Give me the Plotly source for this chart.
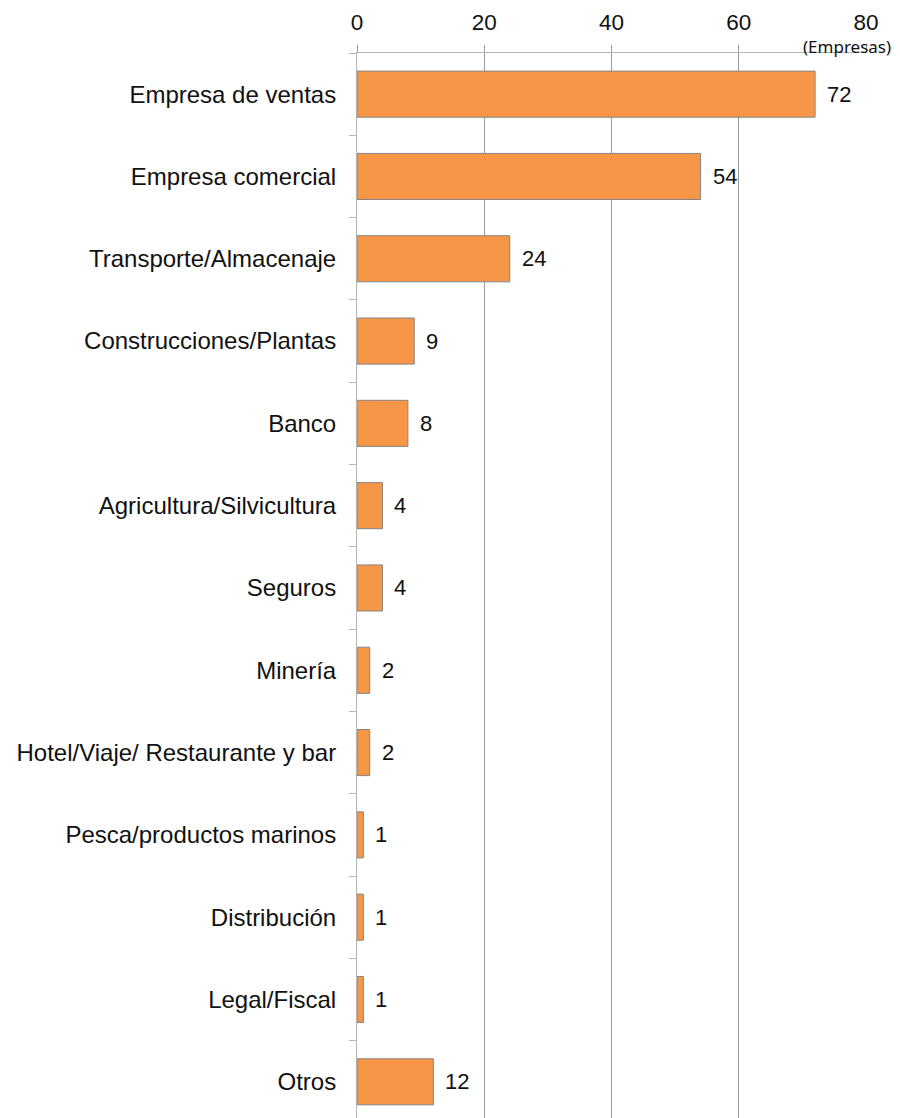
import plotly.graph_objects as go

# Número de empresas por sector
sectores = [
    "Empresa de ventas",
    "Empresa comercial",
    "Transporte/Almacenaje",
    "Construcciones/Plantas",
    "Banco",
    "Agricultura/Silvicultura",
    "Seguros",
    "Minería",
    "Hotel/Viaje/ Restaurante y bar",
    "Pesca/productos marinos",
    "Distribución",
    "Legal/Fiscal",
    "Otros",
]
empresas = [72, 54, 24, 9, 8, 4, 4, 2, 2, 1, 1, 1, 12]
x_ticks = [0, 20, 40, 60, 80]
unidad = "(Empresas)"

BAR_COLOR = "#F79646"
GRID = "#9a9a9a"
AXIS = "#b4b4b4"
FONT = "Liberation Sans, Arial, sans-serif"

fig = go.Figure()
fig.add_trace(
    go.Bar(
        x=empresas,
        y=sectores,
        orientation="h",
        marker=dict(color=BAR_COLOR, line=dict(color="#858585", width=1)),
        hoverinfo="x+y",
    )
)

# Value labels to the right of each bar
for s, v in zip(sectores, empresas):
    fig.add_annotation(
        x=v, y=s, text=str(v), showarrow=False,
        xanchor="left", yanchor="middle", xshift=10,
        font=dict(family=FONT, size=22, color="#111111"),
    )

# Unit label next to the top axis
fig.add_annotation(
    x=1.0, y=1.0, xref="paper", yref="paper", text=unidad,
    showarrow=False, xanchor="right", yanchor="middle", xshift=27, yshift=7,
    font=dict(family="Noto Sans, sans-serif", size=17, color="#111111"),
)

fig.update_layout(
    width=900,
    height=1118,
    margin=dict(l=357, r=34, t=53, b=0, pad=0),
    paper_bgcolor="white",
    plot_bgcolor="white",
    showlegend=False,
    bargap=0.44,
    font=dict(family=FONT, color="#111111"),
    xaxis=dict(
        side="top",
        range=[0, 80],
        tickvals=x_ticks,
        ticktext=[str(t) for t in x_ticks],
        showgrid=True,
        gridcolor=GRID,
        gridwidth=1,
        zeroline=False,
        showline=True,
        linecolor=AXIS,
        linewidth=1,
        ticks="outside",
        ticklen=7,
        tickcolor=GRID,
        ticklabelstandoff=6,
        tickfont=dict(family=FONT, size=22.5, color="#111111"),
        fixedrange=True,
    ),
    yaxis=dict(
        categoryorder="array",
        categoryarray=sectores,
        range=[12.44, -0.5],
        tickson="boundaries",
        ticks="outside",
        ticklen=7,
        tickcolor=AXIS,
        showline=True,
        linecolor=AXIS,
        linewidth=1,
        showgrid=False,
        zeroline=False,
        ticklabelstandoff=15,
        tickfont=dict(family=FONT, size=24, color="#111111"),
        fixedrange=True,
    ),
)

fig.write_html("out.html")
